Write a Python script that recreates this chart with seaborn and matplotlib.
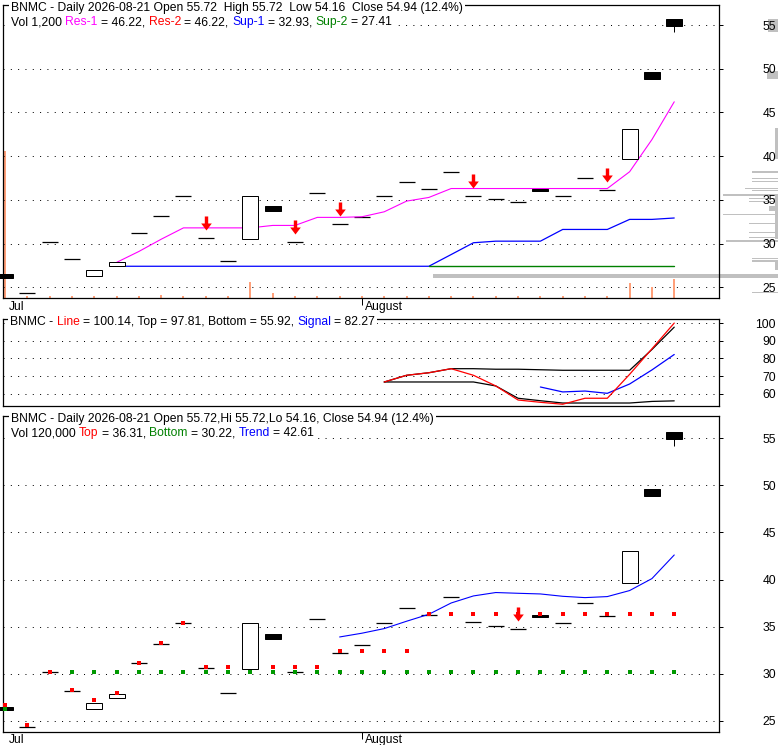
import matplotlib
matplotlib.use('Agg')
import numpy as np
import pandas as pd
import seaborn as sns
import matplotlib.pyplot as plt
from matplotlib.path import Path
from matplotlib.markers import MarkerStyle
from matplotlib.patches import Rectangle
from matplotlib.transforms import ScaledTranslation, IdentityTransform

# daily bars, BNMC, last 31 sessions
dates = pd.bdate_range(end='2026-08-21', periods=31)
opens = [26.50, 24.30, 30.14, 28.20, 26.25, 27.46, 31.17, 33.20, 35.40, 30.60, 27.96,
         30.48, 34.26, 30.14, 35.78, 32.20, 33.10, 35.40, 37.00, 36.20, 38.15, 35.50,
         35.06, 34.72, 36.27, 35.40, 37.46, 36.08, 39.63, 49.60, 55.72]
highs = [26.50, 24.30, 30.14, 28.20, 26.93, 27.85, 31.17, 33.20, 35.40, 30.60, 27.96,
         35.40, 34.26, 30.14, 35.78, 32.20, 33.10, 35.40, 37.00, 36.20, 38.15, 35.50,
         35.06, 34.72, 36.27, 35.40, 37.46, 36.08, 43.07, 49.60, 55.72]
lows = [26.10, 24.30, 30.14, 28.20, 26.25, 27.46, 31.17, 33.20, 35.40, 30.60, 27.96,
        30.48, 33.68, 30.14, 35.78, 32.20, 33.10, 35.40, 37.00, 36.20, 38.15, 35.50,
        35.06, 34.72, 36.00, 35.40, 37.46, 36.08, 39.63, 48.88, 54.16]
closes = [26.10, 24.30, 30.14, 28.20, 26.93, 27.85, 31.17, 33.20, 35.40, 30.60, 27.96,
          35.40, 33.68, 30.14, 35.78, 32.20, 33.10, 35.40, 37.00, 36.20, 38.15, 35.50,
          35.06, 34.72, 36.00, 35.40, 37.46, 36.08, 43.07, 48.88, 54.94]
volume = [9140, 150, 150, 150, 150, 150, 150, 205, 150, 150, 150, 975, 290, 150, 150,
          150, 150, 150, 150, 150, 150, 150, 150, 150, 150, 150, 150, 150, 950, 700, 1200]

nan = np.nan
res1 = [nan] * 5 + [27.85, 29.10, 30.50, 31.80, 31.80, 31.80, 31.80, 32.08, 32.08, 33.00,
                    33.00, 33.07, 33.64, 34.86, 35.28, 36.30, 36.30, 36.30, 36.30, 36.30,
                    36.30, 36.30, 36.30, 38.22, 41.90, 46.22]
sup1 = [nan] * 5 + [27.41] * 15 + [28.75, 30.10, 30.28, 30.28, 30.28, 31.62, 31.62, 31.62,
                                   32.77, 32.77, 32.93]
sup2 = [nan] * 19 + [27.41] * 12
res2_last = 46.22
arrows_top = [9, 13, 15, 21, 27]

# oscillator panel
osc_line = [nan] * 17 + [66.65, 70.45, 71.90, 74.20, 70.45, 64.40, 56.40, 55.10, 54.00,
                         57.40, 57.40, 71.00, 85.50, 100.14]
osc_top = [nan] * 17 + [66.65, 70.45, 71.90, 74.20, 74.20, 73.90, 73.90, 73.60, 73.30,
                        73.30, 73.30, 73.30, 85.10, 97.81]
osc_bottom = [nan] * 17 + [66.65, 66.65, 66.65, 66.65, 66.65, 64.40, 57.40, 56.00, 54.70,
                           54.70, 54.70, 54.70, 55.60, 55.92]
osc_signal = [nan] * 24 + [63.80, 61.00, 61.50, 60.20, 65.50, 73.50, 82.27]

# lower panel: top / bottom channel dots and trend
chan_top = [26.63, 24.50, 30.20, 28.30, 27.20, 27.90, 31.17, 33.30, 35.40, 30.74, 30.74,
            nan, 30.74, 30.74, 30.74, 32.37, 32.37, 32.37, 32.37] + [36.31] * 12
chan_bottom = [26.20, nan] + [30.22] * 29
trend = [nan] * 15 + [33.90, 34.30, 34.79, 35.57, 36.31, 37.51, 38.26, 38.62, 38.54,
                      38.47, 38.22, 38.08, 38.19, 38.83, 40.10, 42.61]
arrows_bottom = [23]

# volume at price (right side profile)
vap_low = [38.10, 37.40, 37.00, 36.22, 35.98, 35.48, 35.10, 34.72, 33.70, 33.28, 32.25,
           31.18, 30.65, 30.22, 28.25, 27.95, 27.45, 26.05, 24.30, 54.16, 48.80, 39.70,
           30.48, 26.93]
vap_high = [38.25, 37.52, 37.12, 36.40, 36.12, 35.62, 35.22, 34.84, 34.30, 33.42, 32.38,
            31.30, 30.78, 30.36, 28.37, 28.07, 27.60, 26.55, 24.42, 55.72, 49.70, 43.20,
            35.40, 27.85]
vap_vol = [690, 690, 690, 875, 690, 1460, 770, 770, 240, 1460, 770, 770, 770, 1380, 690,
           690, 80, 9140, 690, 270, 290, 80, 80, 80]

W, H = 780, 745
FS = 8.75
FONT = ['Liberation Sans', 'DejaVu Sans']
MAGENTA, RED, BLUE, GREEN = '#ff00ff', '#ff0000', '#0000ff', '#008000'

sns.set_style('white')
plt.rcParams['font.family'] = FONT
plt.rcParams['lines.scale_dashes'] = False

fig = plt.figure(figsize=(W / 100, H / 100), dpi=100)
renderer = fig.canvas.get_renderer()


def rect(l, t, r, b):
    return [l / W, 1 - b / H, (r - l) / W, (b - t) / H]


ax_vap = fig.add_axes(rect(3.3, 5, 778, 298))
ax_top = fig.add_axes(rect(3.3, 5, 719.3, 298))
ax_mid = fig.add_axes(rect(3.3, 319.3, 719.3, 406))
ax_bot = fig.add_axes(rect(3.3, 416, 719.3, 731.5))
ax_vol = ax_top.twinx()
ax_vap.set_zorder(0)
ax_vol.set_zorder(1)
ax_top.set_zorder(2)

x = np.arange(len(closes))
month_pos = [0, 16]
month_labels = ['Jul', 'August']


def style_axis(ax, ylim, yticks, xlabels=True):
    ax.set_facecolor('none')
    ax.set_xlim(-0.076, 32.02)
    ax.set_ylim(*ylim)
    ax.set_yticks(yticks)
    ax.yaxis.tick_right()
    ax.tick_params(axis='y', direction='out', length=2.9, width=0.72, pad=38,
                   labelsize=FS, colors='black', left=False)
    for lab in ax.get_yticklabels():
        lab.set_horizontalalignment('right')
    ax.grid(axis='y', color='black', linestyle=(0, (0.72, 4.55)), linewidth=0.72)
    ax.grid(axis='x', visible=False)
    for s in ax.spines.values():
        s.set_visible(True)
        s.set_color('black')
        s.set_linewidth(0.9)
    if xlabels:
        ax.set_xticks(month_pos, month_labels)
        ax.tick_params(axis='x', direction='out', length=5, width=0.72, pad=-3.1,
                       labelsize=FS, colors='black', bottom=True)
        ax.xaxis.get_major_ticks()[0].tick1line.set_visible(False)
        for lab in ax.get_xticklabels():
            lab.set_horizontalalignment('left')
            lab.set_transform(lab.get_transform() +
                              ScaledTranslation(3.5 / 100, 0, fig.dpi_scale_trans))
    else:
        ax.set_xticks([])


def draw_candles(ax):
    o = np.array(opens)
    c = np.array(closes)
    doji = o == c
    body = ~doji
    ax.vlines(x, lows, highs, color='black', lw=0.72, zorder=3)
    ax.hlines(c[doji], x[doji] - 0.36, x[doji] + 0.36, color='black', lw=0.9, zorder=3)
    face = np.where(c > o, 'white', 'black')[body]
    ax.bar(x[body], np.abs(c - o)[body], bottom=np.minimum(o, c)[body], width=0.72,
           color=face, edgecolor='black', linewidth=0.72, zorder=5, clip_on=False)


arrow_path = Path([(0, 8), (-5.3, 15), (-1.7, 15), (-1.7, 22), (1.7, 22), (1.7, 15),
                   (5.3, 15), (0, 8)], closed=True)


def draw_arrows(ax, idx):
    ax.plot(idx, [highs[i] for i in idx], ls='none', marker=MarkerStyle(arrow_path),
            ms=31.7, mfc=RED, mec=RED, mew=0, zorder=6)


# ---- top panel
ax_vap.barh((np.array(vap_low) + np.array(vap_high)) / 2, vap_vol,
            height=np.array(vap_high) - np.array(vap_low), left=0,
            color='#c0c0c0', linewidth=0)
ax_vap.set_xlim(max(vap_vol) * 2.245, 0)
ax_vap.set_ylim(23.78, 57.29)
ax_vap.axis('off')

ax_vol.bar(x, volume, width=0.09, color='#ffa07a', linewidth=0)
ax_vol.set_ylim(0, 18218)
ax_vol.axis('off')

style_axis(ax_top, (23.78, 57.29), [25, 30, 35, 40, 45, 50, 55])
sns.lineplot(x=x, y=res1, ax=ax_top, color=MAGENTA, lw=0.8, estimator=None, zorder=4)
sns.lineplot(x=x, y=sup1, ax=ax_top, color=BLUE, lw=0.9, estimator=None, zorder=4)
sns.lineplot(x=x, y=sup2, ax=ax_top, color=GREEN, lw=1.0, estimator=None, zorder=4)
draw_candles(ax_top)
draw_arrows(ax_top, arrows_top)

# ---- oscillator panel
style_axis(ax_mid, (53.0, 102.27), [60, 70, 80, 90, 100], xlabels=False)
sns.lineplot(x=x, y=osc_top, ax=ax_mid, color='black', lw=0.9, estimator=None)
sns.lineplot(x=x, y=osc_bottom, ax=ax_mid, color='black', lw=0.9, estimator=None)
sns.lineplot(x=x, y=osc_signal, ax=ax_mid, color=BLUE, lw=0.9, estimator=None)
sns.lineplot(x=x, y=osc_line, ax=ax_mid, color=RED, lw=0.9, estimator=None)

# ---- lower panel
style_axis(ax_bot, (23.86, 57.37), [25, 30, 35, 40, 45, 50, 55])
sns.lineplot(x=x, y=trend, ax=ax_bot, color=BLUE, lw=0.8, estimator=None, zorder=4)
draw_candles(ax_bot)
ax_bot.scatter(x, chan_bottom, marker='s', s=5, color='#009900', linewidths=0, zorder=6)
ax_bot.scatter(x, chan_top, marker='s', s=5, color=RED, linewidths=0, zorder=6)
draw_arrows(ax_bot, arrows_bottom)

for ax in (ax_top, ax_mid, ax_bot):
    ax.set_xlabel('')
    ax.set_ylabel('')


# ---- header texts with coloured words
def text_extent(s, x_fig=0.0, y_fig=0.0):
    t = fig.text(x_fig, y_fig, s, fontsize=FS, family=FONT, va='baseline')
    bb = t.get_window_extent(renderer)
    t.remove()
    return bb


def header(x_px, base_px, parts):
    full = ''.join(p for p, _ in parts)
    y = 1 - base_px / H
    bb = text_extent(full, x_px / W, y)
    fig.add_artist(Rectangle((bb.x0 - 2, bb.y0 - 1), bb.width + 4, bb.height + 2,
                             transform=IdentityTransform(), facecolor='white',
                             edgecolor='none', zorder=5))
    pos = 0
    for part, col in parts:
        s = part.strip()
        if s:
            start = pos + len(part) - len(part.lstrip())
            off = text_extent(full[:start + len(s)]).width - text_extent(s).width
            fig.text((x_px + off) / W, y, s, color=col, fontsize=FS, family=FONT,
                     va='baseline', zorder=6)
        pos += len(part)


pct = (closes[-1] / closes[-2] - 1) * 100
day = dates[-1].strftime('%Y-%m-%d')
header(11, 11.3, [(f'BNMC - Daily {day} Open {opens[-1]:.2f}  High {highs[-1]:.2f}  '
                   f'Low {lows[-1]:.2f}  Close {closes[-1]:.2f} ({pct:.1f}%)', 'black')])
header(11, 25.3, [(f'Vol {volume[-1]:,} ', 'black'), ('Res-1', MAGENTA),
                  (f' = {res1[-1]:.2f}, ', 'black'), ('Res-2', RED),
                  (f' = {res2_last:.2f}, ', 'black'), ('Sup-1', BLUE),
                  (f' = {sup1[-1]:.2f}, ', 'black'), ('Sup-2', GREEN),
                  (f' = {sup2[-1]:.2f}', 'black')])
header(10, 325.3, [('BNMC - ', 'black'), ('Line', RED),
                   (f' = {osc_line[-1]:.2f}, Top = {osc_top[-1]:.2f}, '
                    f'Bottom = {osc_bottom[-1]:.2f}, ', 'black'),
                   ('Signal', BLUE), (f' = {osc_signal[-1]:.2f}', 'black')])
header(11, 421.7, [(f'BNMC - Daily {day} Open {opens[-1]:.2f},Hi {highs[-1]:.2f},'
                    f'Lo {lows[-1]:.2f}, Close {closes[-1]:.2f} ({pct:.1f}%)', 'black')])
header(11, 436.0, [('Vol 120,000 ', 'black'), ('Top', RED),
                   (f' = {chan_top[-1]:.2f}, ', 'black'), ('Bottom', GREEN),
                   (f' = {chan_bottom[-1]:.2f}, ', 'black'), ('Trend', BLUE),
                   (f' = {trend[-1]:.2f}', 'black')])

fig.savefig('out.png', dpi=100, facecolor='white')
